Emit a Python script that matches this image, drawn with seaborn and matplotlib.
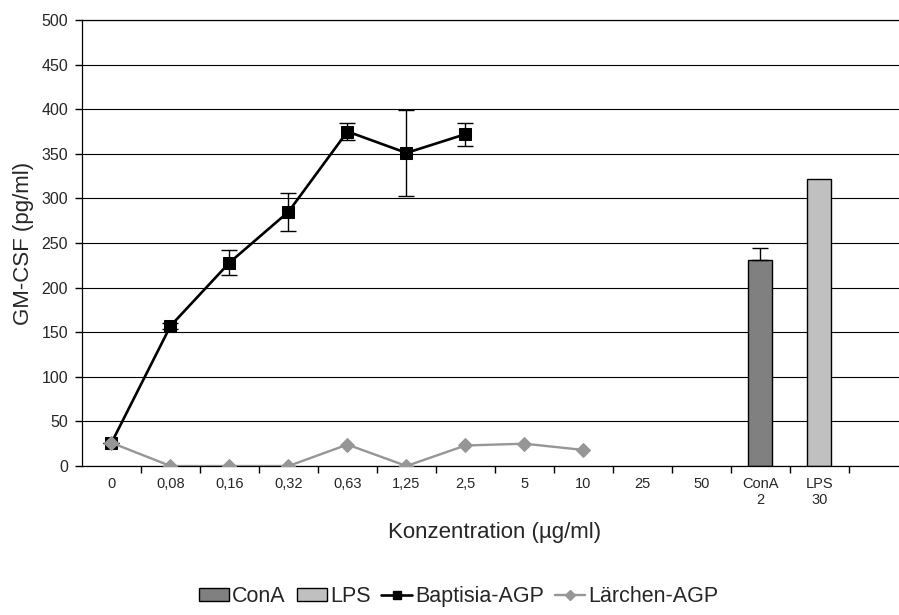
import matplotlib
import matplotlib.pyplot as plt
import numpy as np
import pandas as pd
import seaborn as sns
from matplotlib.lines import Line2D
from matplotlib.patches import Patch
from matplotlib.ticker import FixedLocator, NullFormatter

matplotlib.use("Agg")

# x categories (last slot is empty, as in the original Excel chart)
categories = ["0", "0,08", "0,16", "0,32", "0,63", "1,25", "2,5", "5", "10",
              "25", "50", "ConA\n2", "LPS\n30", ""]

baptisia = [26, 157, 228, 285, 375, 351, 372]
baptisia_err = [0, 3, 14, 21, 10, 48, 13]
laerchen = [26, 0, 0, 0, 24, 0, 23, 25, 18]

control_names = ["ConA", "LPS"]
control_values = [231, 322]
control_pos = [11, 12]
cona_err = 13

y_ticks = list(range(0, 501, 50))

CONA_COLOR = "#808080"
LPS_COLOR = "#c0c0c0"
LAERCHEN_COLOR = "#969696"


def main() -> None:
	sns.set_theme(style="white")
	plt.rcParams["font.family"] = ["Liberation Sans", "DejaVu Sans"]

	fig = plt.figure(figsize=(8.99, 6.15), dpi=100)
	ax = fig.add_axes([82 / 899, 149 / 615, 817 / 899, 446 / 615])

	# gridlines
	for y in y_ticks:
		ax.axhline(y, color="black", lw=0.8, zorder=0)

	# control bars
	ax.bar(control_pos, control_values, width=0.41,
	       color=[CONA_COLOR, LPS_COLOR], edgecolor="black", linewidth=1.0, zorder=2)
	# ConA only has the upper error bar visible
	ax.errorbar([control_pos[0]], [control_values[0]], yerr=[[0], [cona_err]],
	            fmt="none", ecolor="black", elinewidth=1.0, capsize=5.5,
	            capthick=1.0, zorder=3)

	# Baptisia-AGP
	df_b = pd.DataFrame({"pos": np.arange(len(baptisia)), "value": baptisia})
	ax.errorbar(df_b["pos"], df_b["value"], yerr=baptisia_err, fmt="none",
	            ecolor="black", elinewidth=1.0, capsize=5.5, capthick=1.0, zorder=3)
	sns.lineplot(data=df_b, x="pos", y="value", ax=ax, color="black", lw=1.9,
	             marker="s", markersize=8, markeredgecolor="black", zorder=4)

	# Lärchen-AGP
	df_l = pd.DataFrame({"pos": np.arange(len(laerchen)), "value": laerchen})
	sns.lineplot(data=df_l, x="pos", y="value", ax=ax, color=LAERCHEN_COLOR, lw=1.7,
	             marker="D", markersize=7, markeredgecolor=LAERCHEN_COLOR, zorder=5)

	ax.set_xlim(-0.5, 13.35)
	ax.set_ylim(0, 500)

	# y axis
	ax.set_yticks(y_ticks)
	ax.tick_params(axis="y", which="major", direction="out", length=5, width=1,
	               color="black", labelsize=11.5, pad=5, left=True)

	# x axis: ticks between categories, labels at category centres
	pos = np.arange(len(categories))
	ax.xaxis.set_major_locator(FixedLocator(pos[:-1] + 0.5))
	ax.xaxis.set_major_formatter(NullFormatter())
	ax.xaxis.set_minor_locator(FixedLocator(pos))
	ax.set_xticklabels(categories, minor=True)
	ax.tick_params(axis="x", which="major", direction="out", length=5, width=1,
	               color="black", bottom=True)
	ax.tick_params(axis="x", which="minor", length=0, labelsize=10.5, pad=8, bottom=True)

	for side in ["left", "bottom", "top"]:
		ax.spines[side].set_visible(True)
		ax.spines[side].set_color("black")
		ax.spines[side].set_linewidth(0.9)
	ax.spines["right"].set_visible(False)

	ax.set_xlabel("Konzentration (µg/ml)", fontsize=16)
	ax.xaxis.label.set_va("center")
	ax.xaxis.set_label_coords(0.5055, -0.15)
	ax.set_ylabel("GM-CSF (pg/ml)", fontsize=16)
	ax.yaxis.label.set_va("center")
	ax.yaxis.set_label_coords(-0.071, 0.5)

	handles = [
		Patch(facecolor=CONA_COLOR, edgecolor="black", linewidth=1.0),
		Patch(facecolor=LPS_COLOR, edgecolor="black", linewidth=1.0),
		Line2D([], [], color="black", lw=1.9, marker="s", markersize=6),
		Line2D([], [], color=LAERCHEN_COLOR, lw=1.7, marker="D", markersize=5),
	]
	labels = [control_names[0], control_names[1], "Baptisia-AGP", "Lärchen-AGP"]
	fig.legend(handles, labels, loc="center", bbox_to_anchor=(0.51, 0.03), ncol=4,
	           frameon=False, fontsize=15.5, handlelength=1.4, handleheight=0.5,
	           handletextpad=0.15, columnspacing=0.5)

	fig.savefig("out.png", dpi=100)
	plt.close(fig)


if __name__ == "__main__":
	main()
